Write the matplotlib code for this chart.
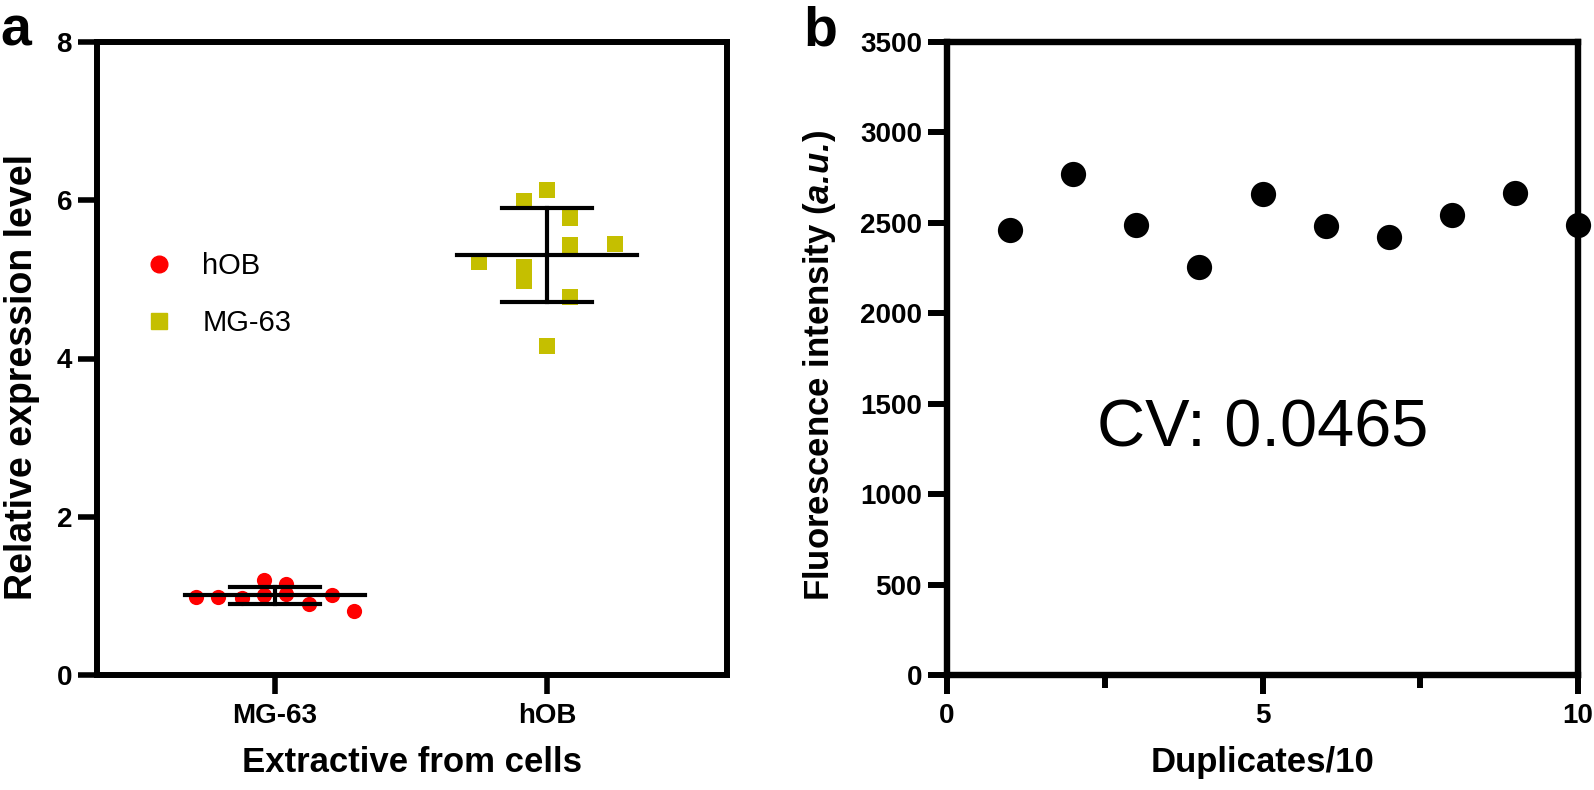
import numpy as np
import matplotlib
matplotlib.use('Agg')
import matplotlib.pyplot as plt
from matplotlib.lines import Line2D
from matplotlib.ticker import MultipleLocator

plt.rcParams['font.family'] = ['Liberation Sans', 'DejaVu Sans']
plt.rcParams['mathtext.fontset'] = 'custom'
plt.rcParams['mathtext.rm'] = 'Liberation Sans'
plt.rcParams['mathtext.bf'] = 'Liberation Sans:bold'
plt.rcParams['mathtext.bfit'] = 'Liberation Sans:bold:italic'

# ===== panel a: relative expression =====
groups = ['MG-63', 'hOB']
red_vals = [0.99, 0.98, 0.97, 1.20, 1.01, 1.15, 1.03, 0.90, 1.01, 0.81]
red_jit = [-0.29, -0.21, -0.12, -0.04, -0.04, 0.04, 0.04, 0.125, 0.21, 0.29]
yel_vals = [5.99, 6.13, 5.77, 5.44, 5.45, 5.22, 5.16, 4.98, 4.78, 4.16]
yel_jit = [-0.083, 0.0, 0.083, 0.083, 0.25, -0.25, -0.083, -0.083, 0.083, 0.0]
a_yticks = [0, 2, 4, 6, 8]

# ===== panel b: fluorescence duplicates =====
dup = [1, 2, 3, 4, 5, 6, 7, 8, 9, 10]
fluo = [2460, 2770, 2490, 2255, 2660, 2480, 2420, 2545, 2665, 2490]
b_yticks = [0, 500, 1000, 1500, 2000, 2500, 3000, 3500]
b_xticks = [0, 5, 10]

RED = '#FF0000'
YEL = '#C5BF00'

fig = plt.figure(figsize=(15.94, 7.90), dpi=100)
ax1 = fig.add_axes([97/1594, 1 - 675/790, 630/1594, 633/790])
ax2 = fig.add_axes([947/1594, 1 - 675/790, 631/1594, 633/790])

# 1. scatter with mean +/- SD
for pos, vals, jit, col, mk, sz in [(0, red_vals, red_jit, RED, 'o', 120),
                                    (1, yel_vals, yel_jit, YEL, 's', 135)]:
    ax1.scatter(np.array(jit) + pos, vals, s=sz, marker=mk, color=col,
                linewidths=0, zorder=2)
    m = np.mean(vals)
    sd = np.std(vals, ddof=1)
    ax1.plot([pos - 0.33, pos + 0.33], [m, m], color='black', lw=3, zorder=3)
    ax1.plot([pos - 0.165, pos + 0.165], [m + sd, m + sd], color='black', lw=3, zorder=3)
    ax1.plot([pos - 0.165, pos + 0.165], [m - sd, m - sd], color='black', lw=3, zorder=3)
    ax1.plot([pos, pos], [m - sd, m + sd], color='black', lw=3, zorder=3)

ax1.set_xlim(-0.654, 1.662)
ax1.set_ylim(0, 8)
ax1.set_xticks([0, 1])
ax1.set_xticklabels(groups)
ax1.set_yticks(a_yticks)
ax1.tick_params(length=14, width=4, labelsize=20, pad=4)
ax1.tick_params(axis='x', pad=6)
for lab in ax1.get_xticklabels() + ax1.get_yticklabels():
    lab.set_fontweight('bold')
for sp in ax1.spines.values():
    sp.set_linewidth(4.3)
ax1.set_xlabel('Extractive from cells', fontsize=25, fontweight='bold')
ax1.set_ylabel('Relative expression level', fontsize=27, fontweight='bold')
ax1.yaxis.set_label_coords(-0.09, 0.47)
ax1.xaxis.set_label_coords(0.5, -0.112)

handles = [Line2D([], [], ls='none', marker='o', color=RED, markersize=12),
           Line2D([], [], ls='none', marker='s', color=YEL, markersize=12)]
ax1.legend(handles, ['hOB', 'MG-63'], loc='upper left', bbox_to_anchor=(0.034, 0.71),
           frameon=False, fontsize=21, handlelength=1.0, handletextpad=0.97,
           labelspacing=1.0)

# 2. duplicates
ax2.scatter(dup, fluo, s=330, color='black', linewidths=0, clip_on=False, zorder=3)
ax2.set_xlim(0, 10)
ax2.set_ylim(0, 3500)
ax2.set_xticks(b_xticks)
ax2.set_yticks(b_yticks)
ax2.xaxis.set_minor_locator(MultipleLocator(2.5))
ax2.tick_params(length=14, width=4.3, labelsize=20, pad=4)
ax2.tick_params(axis='x', which='minor', length=9, width=4.3)
ax2.tick_params(axis='x', pad=6)
for lab in ax2.get_xticklabels() + ax2.get_yticklabels():
    lab.set_fontweight('bold')
for sp in ax2.spines.values():
    sp.set_linewidth(4.6)
ax2.set_xlabel('Duplicates/10', fontsize=25, fontweight='bold')
ax2.set_ylabel(r'Fluorescence intensity ($\mathbfit{a.\!u.\!}$)', fontsize=25, fontweight='bold')
ax2.yaxis.set_label_coords(-0.172, 0.49)
ax2.xaxis.set_label_coords(0.5, -0.112)
ax2.text(5, 1360, 'CV: 0.0465', fontsize=48, ha='center', va='center')

fig.text(0.0, 1 - 45/790, 'a', fontsize=40, fontweight='bold', va='baseline', ha='left')
fig.text(803/1594, 1 - 45/790, 'b', fontsize=40, fontweight='bold', va='baseline', ha='left')

fig.savefig('out.png', dpi=100)
